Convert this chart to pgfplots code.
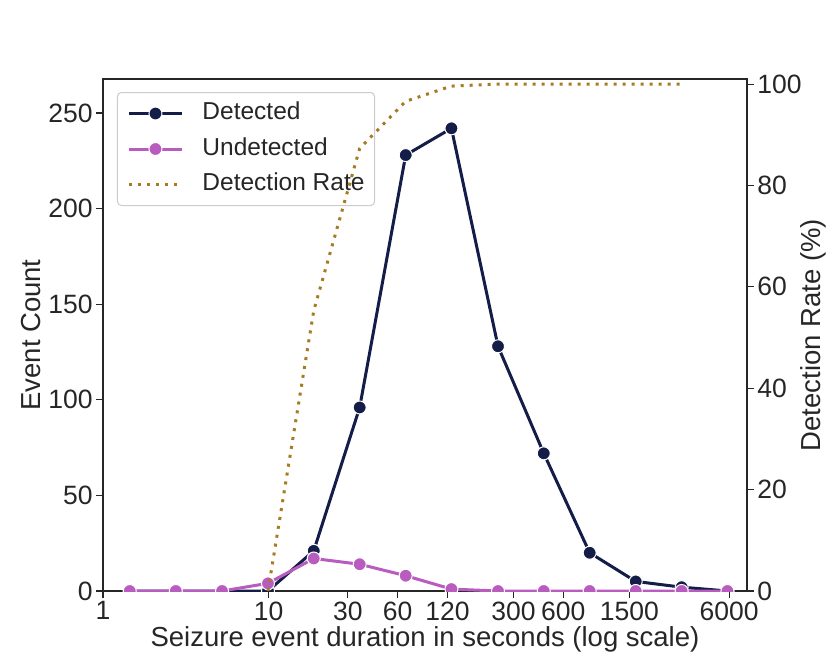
\documentclass[border=0pt]{standalone}
\usepackage{pgfplots}
\pgfplotsset{compat=1.18}
\usepackage{pgfplotstable}
\usepackage{fontspec}
\setmainfont{Liberation Sans}
\definecolor{det}{HTML}{131D48}
\definecolor{und}{HTML}{B85CBF}
\definecolor{rate}{HTML}{A67B22}
\definecolor{spine}{HTML}{262626}

\pgfplotstableread{
x det und
1.45 0 0
2.75 0 0
5.23 0 0
9.9 0 4
18.7 21 17
35.4 96 14
67.1 228 8
126.7 242 1
242 128 0
457 72 0
865 20 0
1640 5 0
3105 2 0
5866 0 0
}\bins
\pgfplotstableread{
x rate
9.9 0
18.7 55.3
35.4 87.3
67.1 96.6
126.7 99.6
242 100
457 100
865 100
1640 100
3105 100
}\ratetab

\pgfplotsset{
  legend image code/.code={\draw[mark repeat=2, mark phase=2, #1] plot coordinates {(0pt,0pt) (26.5pt,0pt) (53pt,0pt)};},
}

\begin{document}
\begin{tikzpicture}
\begin{axis}[name=ax,
  scale only axis, width=644pt, height=512pt,
  xmode=log, xmin=1, xmax=7700, ymin=0, ymax=267.8,
  xminorticks=false,
  tick align=outside, major tick length=7pt,
  major tick style={spine, line width=1.1pt},
  tick label style={font=\fontsize{26.5}{30}\selectfont, text=spine},
  label style={font=\fontsize{27.5}{32}\selectfont, text=spine},
  clip marker paths=true,
  axis line style={spine, line width=1.1pt},
  ytick={0,50,100,150,200,250},
  yticklabels={0,50,100,150,200,250},
  xtick={1,10,30,60,120,300,600,1500,6000},
  xticklabels={1,10,30,60,120,300,600,1500,6000},
  xtick pos=bottom, ytick pos=left,
  xlabel={Seizure event duration in seconds (log scale)},
  ylabel={Event Count},
  xlabel style={at={(axis description cs:0.5,-0.095)}, anchor=center},
  ylabel style={at={(axis description cs:-0.112,0.5)}, anchor=center},
  legend style={at={(axis description cs:0.0217,0.9746)}, anchor=north west,
    draw=black!20, line width=1pt, rounded corners=4pt, fill=white,
    font=\fontsize{24.5}{29}\selectfont, text=spine,
    inner xsep=10pt, inner ysep=10pt, row sep=13.5pt, column sep=19pt,
    nodes={inner sep=0pt, text height=17pt, text depth=5pt}},
  legend cell align=left,
]
\addplot[det, line width=3pt, mark=*, mark size=6.5pt, mark options={draw=white, fill=det, line width=1pt}] table[x=x, y=det]{\bins};
\addlegendentry{Detected}
\addplot[und, line width=3pt, mark=*, mark size=6.5pt, mark options={draw=white, fill=und, line width=1pt}] table[x=x, y=und]{\bins};
\addlegendentry{Undetected}
\addlegendimage{rate, line width=3pt, dash pattern=on 3pt off 6pt}
\addlegendentry{Detection Rate}
\end{axis}
\begin{axis}[
  scale only axis, width=644pt, height=512pt,
  xmode=log, xmin=1, xmax=7700, ymin=0, ymax=101,
  xminorticks=false,
  tick align=outside, major tick length=7pt,
  major tick style={spine, line width=1.1pt},
  tick label style={font=\fontsize{26.5}{30}\selectfont, text=spine},
  label style={font=\fontsize{27.5}{32}\selectfont, text=spine},
  axis line style={spine, line width=1.1pt},
  ytick={0,20,40,60,80,100},
  yticklabels={0,20,40,60,80,100},
  axis x line=none, axis y line*=right,
  ylabel={Detection Rate (\%)},
  ylabel style={at={(axis description cs:1.1025,0.5)}, anchor=center},
]
\addplot[rate, line width=3pt, dash pattern=on 3pt off 6pt] table[x=x, y=rate]{\ratetab};
\end{axis}
\pgfresetboundingbox
\path ([shift={(-103pt,-73pt)}]ax.south west) rectangle ([shift={(83pt,79pt)}]ax.north east);
\end{tikzpicture}
\end{document}
